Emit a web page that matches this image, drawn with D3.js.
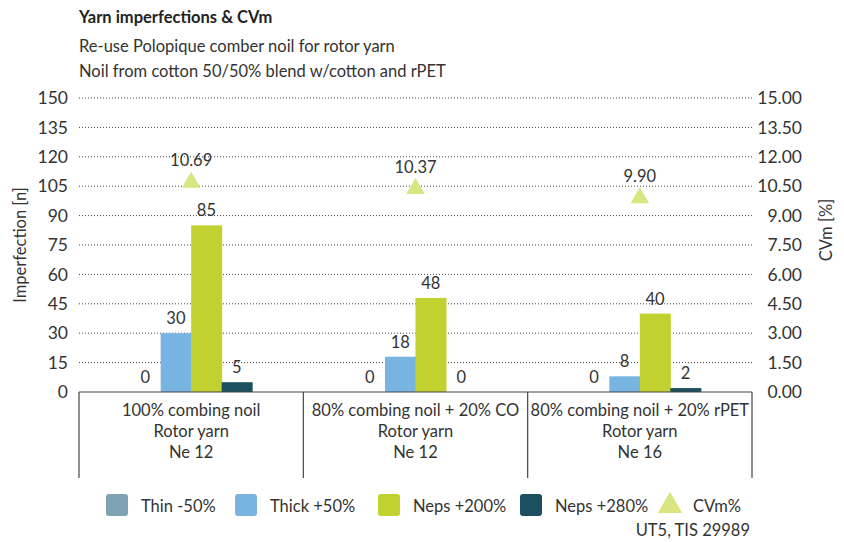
<!DOCTYPE html>
<html><head><meta charset="utf-8">
<script src="https://cdn.jsdelivr.net/npm/d3@7"></script>
<style>body{margin:0;background:#fff;} svg{display:block;font-family:Lato,"Open Sans",sans-serif;}</style>
</head><body>
<div id="chart"></div>
<script>
const categories = [
  ["100% combing noil","Rotor yarn","Ne 12"],
  ["80% combing noil + 20% CO","Rotor yarn","Ne 12"],
  ["80% combing noil + 20% rPET","Rotor yarn","Ne 16"]
];
const seriesNames = ["Thin -50%","Thick +50%","Neps +200%","Neps +280%"];
const seriesColors = ["#7fa3b2","#78b4e2","#c0d130","#1c5060"];
const thin = [0,0,0];
const thick = [30,18,8];
const neps200 = [85,48,40];
const neps280 = [5,0,2];
const cvm = [10.69,10.37,9.90];
const leftTicks = [0,15,30,45,60,75,90,105,120,135,150];
const rightTicks = [0,1.5,3,4.5,6,7.5,9,10.5,12,13.5,15];

const series = [thin,thick,neps200,neps280];
const W=844,H=542;
const m={l:79,r:752,t:98,b:392};
const svg=d3.select("#chart").append("svg").attr("width",W).attr("height",H);

const x0=d3.scaleBand().domain(d3.range(categories.length)).range([m.l,m.r]).padding(0);
const x1=d3.scaleBand().domain(d3.range(series.length)).range([0,122]);
const yL=d3.scaleLinear().domain([0,150]).range([m.b,m.t]);
const yR=d3.scaleLinear().domain([0,15]).range([m.b,m.t]);

// title
svg.append("text").attr("x",79).attr("y",23).attr("font-size",16.5).attr("font-weight",700).attr("fill","#222").text("Yarn imperfections & CVm");
svg.append("text").attr("x",79).attr("y",52).attr("font-size",16.5).attr("fill","#333").text("Re-use Polopique comber noil for rotor yarn");
svg.append("text").attr("x",79).attr("y",77).attr("font-size",16.5).attr("fill","#333").text("Noil from cotton 50/50% blend w/cotton and rPET");

// gridlines
svg.append("g").selectAll("line").data(leftTicks.filter(d=>d>0)).join("line")
  .attr("x1",m.l).attr("x2",m.r).attr("y1",d=>yL(d)).attr("y2",d=>yL(d))
  .attr("stroke","#444").attr("stroke-width",1).attr("stroke-dasharray","1,2");

// left axis
const gl=svg.append("g").attr("transform",`translate(${m.l},0)`)
  .call(d3.axisLeft(yL).tickValues(leftTicks).tickSize(0).tickPadding(11));
gl.select(".domain").remove();
gl.selectAll("text").attr("font-size",17.5).attr("fill","#333").attr("font-family","Lato,sans-serif");

// right axis
const gr=svg.append("g").attr("transform",`translate(${m.r},0)`)
  .call(d3.axisRight(yR).tickValues(rightTicks).tickFormat(d3.format(".2f")).tickSize(0).tickPadding(50));
gr.select(".domain").remove();
gr.selectAll("text").attr("font-size",17.5).attr("fill","#333").attr("text-anchor","end").attr("font-family","Lato,sans-serif");

// axis titles
svg.append("text").attr("transform",`translate(26,${(m.t+m.b)/2}) rotate(-90)`).attr("text-anchor","middle")
  .attr("font-size",16.5).attr("fill","#333").text("Imperfection [n]");
svg.append("text").attr("transform",`translate(832,${(m.t+m.b)/2-15}) rotate(-90)`).attr("text-anchor","middle")
  .attr("font-size",16.5).attr("fill","#333").text("CVm [%]");

// bars
const groups=svg.append("g").selectAll("g").data(categories.map((c,i)=>i)).join("g")
  .attr("transform",i=>`translate(${x0(i)+x0.bandwidth()/2-61},0)`);
groups.selectAll("rect").data(i=>series.map((s,k)=>({k,v:s[i]}))).join("rect")
  .attr("x",d=>x1(d.k)).attr("width",x1.bandwidth()+0.5)
  .attr("y",d=>yL(d.v)).attr("height",d=>m.b-yL(d.v)).attr("fill",d=>seriesColors[d.k]);
groups.selectAll("text").data(i=>series.map((s,k)=>({k,v:s[i]}))).join("text")
  .attr("x",d=>x1(d.k)+x1.bandwidth()/2).attr("y",d=>yL(d.v)-9)
  .attr("text-anchor","middle").attr("font-size",16.5).attr("fill","#333").text(d=>d.v);

// CVm triangles
const sym=d3.symbol().type(d3.symbolTriangle).size(150);
svg.append("g").selectAll("path").data(cvm).join("path")
  .attr("d",sym).attr("fill","#d8e580")
  .attr("transform",(d,i)=>`translate(${x0(i)+x0.bandwidth()/2},${yR(d)})`);
svg.append("g").selectAll("text").data(cvm).join("text")
  .attr("x",(d,i)=>x0(i)+x0.bandwidth()/2).attr("y",d=>yR(d)-16)
  .attr("text-anchor","middle").attr("font-size",16.5).attr("fill","#333").text(d=>d3.format(".2f")(d));

// category axis
svg.append("line").attr("x1",m.l).attr("x2",m.r).attr("y1",m.b).attr("y2",m.b).attr("stroke","#444").attr("stroke-width",1.2);
svg.append("g").selectAll("line").data(d3.range(categories.length+1)).join("line")
  .attr("x1",i=>i<categories.length?x0(i):m.r).attr("x2",i=>i<categories.length?x0(i):m.r)
  .attr("y1",m.b).attr("y2",478).attr("stroke","#444").attr("stroke-width",1.2);
const cl=svg.append("g").selectAll("text").data(categories).join("text")
  .attr("text-anchor","middle").attr("font-size",16.5).attr("fill","#333");
cl.each(function(c,i){
  d3.select(this).selectAll("tspan").data(c).join("tspan")
    .attr("x",x0(i)+x0.bandwidth()/2).attr("y",(d,j)=>416+j*21).text(d=>d);
});

// legend
const legX=[106,235,378,520];
const lg=svg.append("g");
seriesNames.forEach((n,k)=>{
  lg.append("rect").attr("x",legX[k]).attr("y",494).attr("width",22).attr("height",22).attr("rx",3).attr("fill",seriesColors[k]);
  lg.append("text").attr("x",legX[k]+35).attr("y",512).attr("font-size",16.5).attr("fill","#333").text(n);
});
lg.append("path").attr("d",d3.symbol().type(d3.symbolTriangle).size(260)).attr("fill","#d8e580").attr("transform","translate(670,506)");
lg.append("text").attr("x",693).attr("y",512).attr("font-size",16.5).attr("fill","#333").text("CVm%");
svg.append("text").attr("x",750).attr("y",536).attr("text-anchor","end").attr("font-size",16.5).attr("fill","#333").text("UT5, TIS 29989");
</script>
</body></html>
